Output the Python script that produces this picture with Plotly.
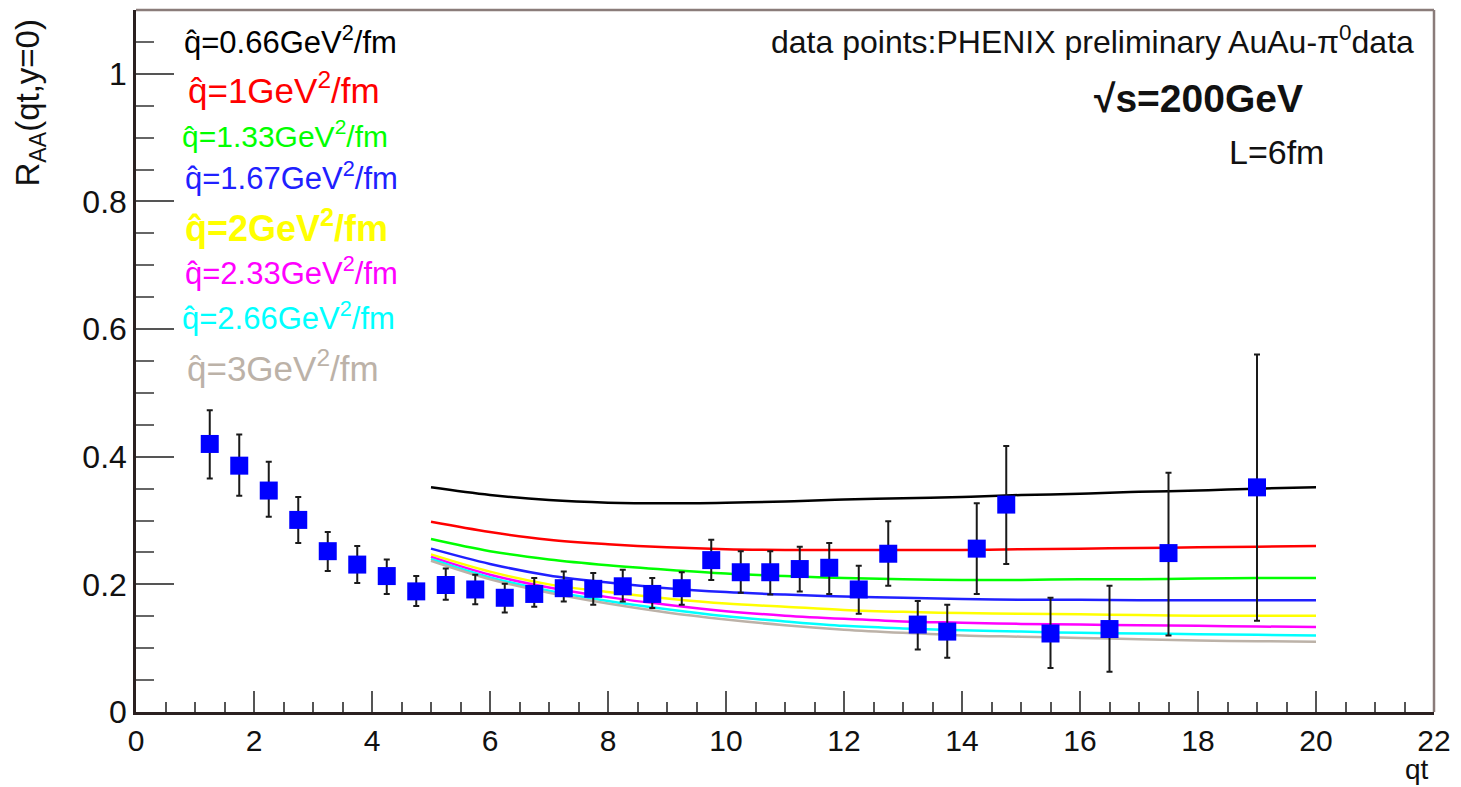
import plotly.graph_objects as go

# ---------------- data ----------------
data_x = [1.25, 1.75, 2.25, 2.75, 3.25, 3.75, 4.25, 4.75, 5.25, 5.75, 6.25, 6.75,
          7.25, 7.75, 8.25, 8.75, 9.25, 9.75, 10.25, 10.75, 11.25, 11.75, 12.25,
          12.75, 13.25, 13.75, 14.25, 14.75, 15.5, 16.5, 17.5, 19.0]
data_y = [0.420, 0.386, 0.347, 0.301, 0.252, 0.231, 0.213, 0.189, 0.199, 0.192, 0.179, 0.185,
          0.194, 0.193, 0.197, 0.185, 0.194, 0.238, 0.219, 0.219, 0.224, 0.226, 0.192,
          0.248, 0.137, 0.126, 0.256, 0.325, 0.123, 0.130, 0.249, 0.352]
err_up = [0.053, 0.049, 0.045, 0.036, 0.030, 0.029, 0.026, 0.024, 0.026, 0.023, 0.022, 0.025,
          0.026, 0.025, 0.026, 0.025, 0.025, 0.032, 0.033, 0.033, 0.035, 0.039, 0.037,
          0.051, 0.037, 0.042, 0.071, 0.092, 0.056, 0.068, 0.126, 0.208]
err_down = [0.054, 0.047, 0.041, 0.036, 0.031, 0.029, 0.028, 0.023, 0.023, 0.023, 0.023, 0.020,
            0.021, 0.025, 0.024, 0.022, 0.026, 0.031, 0.032, 0.035, 0.035, 0.041, 0.038,
            0.050, 0.039, 0.041, 0.071, 0.093, 0.054, 0.067, 0.129, 0.209]

curve_x = [5, 6, 7, 8, 9, 10, 11, 12, 13, 14, 15, 16, 17, 18, 19, 20]
q066 = [0.352, 0.340, 0.332, 0.328, 0.327, 0.328, 0.330, 0.333, 0.335, 0.337, 0.340, 0.342, 0.345, 0.347, 0.350, 0.352]
q100 = [0.298, 0.282, 0.270, 0.263, 0.258, 0.255, 0.254, 0.254, 0.254, 0.254, 0.255, 0.256, 0.257, 0.258, 0.259, 0.260]
q133 = [0.271, 0.252, 0.239, 0.230, 0.223, 0.217, 0.213, 0.210, 0.208, 0.207, 0.207, 0.208, 0.208, 0.209, 0.210, 0.210]
q167 = [0.256, 0.232, 0.214, 0.203, 0.194, 0.188, 0.184, 0.181, 0.179, 0.177, 0.176, 0.176, 0.175, 0.175, 0.175, 0.175]
q200 = [0.247, 0.220, 0.200, 0.188, 0.178, 0.170, 0.165, 0.160, 0.157, 0.155, 0.154, 0.153, 0.152, 0.151, 0.151, 0.151]
q233 = [0.243, 0.215, 0.195, 0.180, 0.168, 0.158, 0.151, 0.146, 0.142, 0.140, 0.138, 0.137, 0.136, 0.135, 0.134, 0.133]
q266 = [0.240, 0.211, 0.190, 0.174, 0.161, 0.150, 0.142, 0.135, 0.131, 0.128, 0.126, 0.124, 0.123, 0.122, 0.121, 0.120]
q300 = [0.237, 0.208, 0.187, 0.170, 0.156, 0.145, 0.136, 0.129, 0.124, 0.120, 0.118, 0.116, 0.114, 0.112, 0.111, 0.110]

curve_values = [q066, q100, q133, q167, q200, q233, q266, q300]
curve_labels = ["0.66", "1", "1.33", "1.67", "2", "2.33", "2.66", "3"]
curve_colors = ["#000000", "#ff0000", "#00ff00", "#2020ff", "#ffff00", "#ff00ff", "#00ffff", "#bcb2a8"]

x_ticks = [0, 2, 4, 6, 8, 10, 12, 14, 16, 18, 20, 22]
y_ticks = [0, 0.2, 0.4, 0.6, 0.8, 1]
y_ticktext = ["0", "0.2", "0.4", "0.6", "0.8", "1"]

# ---------------- layout helpers ----------------
W, H = 1461, 787
L, R, T, B = 136, 21, 10, 75
PW, PH = W - L - R, H - T - B


def px(xp):
    return (xp - L) / PW


def py(yp):
    return (H - B - yp) / PH


FONT = "Liberation Sans, Arial, sans-serif"
fig = go.Figure()

for vals, lab, col in zip(curve_values, curve_labels, curve_colors):
    fig.add_trace(go.Scatter(x=curve_x, y=vals, mode="lines", line=dict(color=col, width=2.5, shape="spline"),
                             name=lab, showlegend=False, hoverinfo="skip"))

fig.add_trace(go.Scatter(
    x=data_x, y=data_y, mode="markers",
    marker=dict(symbol="square", size=18, color="#0000ff", line=dict(width=0)),
    error_y=dict(type="data", symmetric=False, array=err_up, arrayminus=err_down,
                 color="#1a1a1a", thickness=2, width=3),
    showlegend=False))

# legend-like labels (left)
leg_y = [40, 88, 134, 176, 226, 271, 316, 366]
leg_x = [182, 186, 180, 183, 183, 183, 180, 185]
leg_size = [31, 35, 30, 31, 36, 31, 31, 35]
leg_bold = [False, False, False, False, True, False, False, False]
for lab, col, yy, xx, sz, bd in zip(curve_labels, curve_colors, leg_y, leg_x, leg_size, leg_bold):
    txt = "q\u0302=" + lab + "GeV<sup>2</sup>/fm"
    if bd:
        txt = "<b>" + txt + "</b>"
    fig.add_annotation(x=px(xx), y=py(yy), xref="paper", yref="paper",
                       xanchor="left", yanchor="middle", text=txt, showarrow=False,
                       font=dict(family=FONT, size=sz, color=col))

fig.add_annotation(x=px(1422), y=py(40), xref="paper", yref="paper", xanchor="right",
                   yanchor="middle", showarrow=False,
                   text="data points:PHENIX preliminary AuAu-π<sup>0</sup>data",
                   font=dict(family=FONT, size=32, color="#111111"))
fig.add_annotation(x=px(1310), y=py(98), xref="paper", yref="paper", xanchor="right",
                   yanchor="middle", showarrow=False, text="<b>√s=200GeV</b>",
                   font=dict(family=FONT, size=39, color="#111111"))
fig.add_annotation(x=px(1332), y=py(152), xref="paper", yref="paper", xanchor="right",
                   yanchor="middle", showarrow=False, text="L=6fm",
                   font=dict(family=FONT, size=34, color="#111111"))
fig.add_annotation(x=px(1436), y=py(786), xref="paper", yref="paper", xanchor="right",
                   yanchor="bottom", showarrow=False, text="qt", borderpad=0,
                   font=dict(family=FONT, size=28, color="#111111"))
fig.add_annotation(x=px(30), y=py(103), xref="paper", yref="paper", xanchor="center",
                   yanchor="middle", showarrow=False, textangle=-90,
                   text="R<sub>AA</sub>(qt,y=0)",
                   font=dict(family=FONT, size=33, color="#111111"))

# frame on top and right
fig.add_shape(type="line", xref="paper", yref="paper", x0=0, x1=1, y0=1, y1=1,
              line=dict(color="#8a7c7a", width=2.5))
fig.add_shape(type="line", xref="paper", yref="paper", x0=1, x1=1, y0=0, y1=1,
              line=dict(color="#8a7c7a", width=2.5))

fig.update_xaxes(range=[0, 22], tickvals=x_ticks, ticks="inside", ticklen=21, tickwidth=2,
                 tickcolor="#555555", showline=True, linecolor="#2a2020", linewidth=2.5,
                 showgrid=False, zeroline=False,
                 tickfont=dict(family=FONT, size=30, color="#111111"),
                 minor=dict(dtick=0.5, ticks="inside", ticklen=10, tickwidth=2, tickcolor="#555555",
                            showgrid=False))
fig.update_yaxes(range=[0, 1.1], tickvals=y_ticks, ticktext=y_ticktext, ticks="inside", ticklen=38,
                 tickwidth=2, tickcolor="#555555", showline=True, linecolor="#2a2020", linewidth=2.5,
                 showgrid=False, zeroline=False,
                 tickfont=dict(family=FONT, size=32, color="#111111"),
                 minor=dict(dtick=0.05, ticks="inside", ticklen=18, tickwidth=2, tickcolor="#666666",
                            showgrid=False))

fig.update_layout(width=W, height=H, margin=dict(l=L, r=R, t=T, b=B),
                  plot_bgcolor="white", paper_bgcolor="white", showlegend=False)

fig.write_html("out.html")
